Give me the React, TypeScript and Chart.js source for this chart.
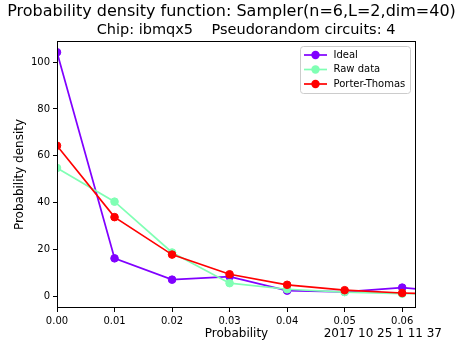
import React, { useEffect, useRef } from "react";
import { Chart, registerables } from "chart.js";

Chart.register(...registerables);

const probabilities = [0, 0.01, 0.02, 0.03, 0.04, 0.05, 0.06, 0.07];
const idealDensity = [104.2, 16.2, 7.1, 8.4, 2.4, 1.9, 3.7, 1.4];
const rawDensity = [54.8, 40.4, 18.7, 5.6, 3.0, 1.8, 1.1, 1.0];
const porterThomasDensity = [64.3, 33.8, 17.8, 9.4, 4.9, 2.6, 1.4, 0.7];
const xTicks = [0, 0.01, 0.02, 0.03, 0.04, 0.05, 0.06];
const yTicks = [0, 20, 40, 60, 80, 100];
const seriesLabels = ["Ideal", "Raw data", "Porter-Thomas"];
const seriesColors = ["#8000ff", "#80ffb4", "#ff0000"];
const titleText = "Probability density function: Sampler(n=6,L=2,dim=40)";
const subtitleText = "Chip: ibmqx5    Pseudorandom circuits: 4";
const timestampText = "2017 10 25 1 11 37";
const xLabel = "Probability";
const yLabel = "Probability density";

const FONT = '"DejaVu Sans", sans-serif';

const decorPlugin = {
  id: "decor",
  afterDraw(chart: any) {
    const { ctx, chartArea: a } = chart;
    ctx.save();
    // frame (spines)
    ctx.strokeStyle = "#000";
    ctx.lineWidth = 1;
    ctx.strokeRect(a.left + 0.5, a.top + 0.5, a.right - a.left - 1, a.bottom - a.top - 1);

    // titles
    ctx.fillStyle = "#000";
    ctx.textAlign = "center";
    ctx.textBaseline = "alphabetic";
    ctx.font = `16px ${FONT}`;
    ctx.fillText(titleText, 231.5, 16);
    ctx.font = `14.5px ${FONT}`;
    ctx.fillText(subtitleText, 246, 34);

    // timestamp
    ctx.font = `12px ${FONT}`;
    ctx.textAlign = "right";
    ctx.textBaseline = "middle";
    ctx.fillText(timestampText, 442, 333.8);

    // legend
    const bx = 300.5, by = 46.5, bw = 110, bh = 47, r = 3;
    ctx.beginPath();
    ctx.moveTo(bx + r, by);
    ctx.lineTo(bx + bw - r, by);
    ctx.arcTo(bx + bw, by, bx + bw, by + r, r);
    ctx.lineTo(bx + bw, by + bh - r);
    ctx.arcTo(bx + bw, by + bh, bx + bw - r, by + bh, r);
    ctx.lineTo(bx + r, by + bh);
    ctx.arcTo(bx, by + bh, bx, by + bh - r, r);
    ctx.lineTo(bx, by + r);
    ctx.arcTo(bx, by, bx + r, by, r);
    ctx.closePath();
    ctx.fillStyle = "rgba(255,255,255,0.8)";
    ctx.fill();
    ctx.strokeStyle = "#cccccc";
    ctx.lineWidth = 1;
    ctx.stroke();

    const datasets = chart.data.datasets;
    datasets.forEach((ds: any, i: number) => {
      const y = 55 + i * 14.5;
      ctx.strokeStyle = ds.borderColor;
      ctx.lineWidth = 1.7;
      ctx.beginPath();
      ctx.moveTo(304, y);
      ctx.lineTo(327, y);
      ctx.stroke();
      ctx.fillStyle = ds.borderColor;
      ctx.beginPath();
      ctx.arc(315.5, y, 4.2, 0, Math.PI * 2);
      ctx.fill();
      ctx.fillStyle = "#000";
      ctx.font = `10px ${FONT}`;
      ctx.textAlign = "left";
      ctx.textBaseline = "middle";
      ctx.fillText(ds.label, 333.5, y);
    });
    ctx.restore();
  },
};

function toPoints(values: number[]) {
  return values.map((v, i) => ({ x: probabilities[i], y: v }));
}

export default function App() {
  const ref = useRef<HTMLCanvasElement>(null);
  useEffect(() => {
    if (!ref.current) return;
    const seriesValues = [idealDensity, rawDensity, porterThomasDensity];
    const chart = new Chart(ref.current, {
      type: "line",
      data: {
        datasets: seriesValues.map((vals, i) => ({
          label: seriesLabels[i],
          data: toPoints(vals),
          borderColor: seriesColors[i],
          backgroundColor: seriesColors[i],
          pointBackgroundColor: seriesColors[i],
          pointBorderColor: seriesColors[i],
          borderWidth: 1.7,
          pointRadius: 3.8,
          pointBorderWidth: 1,
          tension: 0,
          fill: false,
          order: 3 - i,
        })),
      },
      options: {
        animation: false,
        responsive: false,
        devicePixelRatio: 1,
        layout: { padding: { top: 41, right: 47, left: 0, bottom: 0 } },
        plugins: {
          legend: { display: false },
          tooltip: { enabled: false },
        },
        scales: {
          x: {
            type: "linear",
            min: 0,
            max: 0.0624,
            afterBuildTicks: (s: any) => {
              s.ticks = xTicks.map((v) => ({ value: v }));
            },
            afterFit: (s: any) => {
              s.height = 39;
            },
            grid: {
              display: true,
              drawOnChartArea: false,
              drawTicks: true,
              tickLength: 4,
              color: "#000",
            },
            border: { display: false },
            ticks: {
              color: "#000",
              font: { family: FONT, size: 10 },
              padding: 3,
              maxRotation: 0,
              autoSkip: false,
              callback: (v: any) => Number(v).toFixed(2),
            },
            title: {
              display: true,
              text: xLabel,
              color: "#000",
              font: { family: FONT, size: 12 },
              padding: { top: 0, bottom: 6 },
            },
          },
          y: {
            type: "linear",
            min: -5,
            max: 109,
            afterBuildTicks: (s: any) => {
              s.ticks = yTicks.map((v) => ({ value: v }));
            },
            afterFit: (s: any) => {
              s.width = 57;
            },
            grid: {
              display: true,
              drawOnChartArea: false,
              drawTicks: true,
              tickLength: 4,
              color: "#000",
            },
            border: { display: false },
            ticks: {
              color: "#000",
              font: { family: FONT, size: 10 },
              padding: 3,
              autoSkip: false,
              callback: (v: any) => String(v),
            },
            title: {
              display: true,
              text: yLabel,
              color: "#000",
              font: { family: FONT, size: 12 },
              padding: { top: 13, bottom: 0 },
            },
          },
        },
      },
      plugins: [decorPlugin],
    });
    return () => chart.destroy();
  }, []);

  return (
    <div style={{ position: "fixed", left: 0, top: 0, width: 463, height: 347, background: "#fff" }}>
      <canvas ref={ref} width={463} height={347} style={{ display: "block" }} />
    </div>
  );
}
